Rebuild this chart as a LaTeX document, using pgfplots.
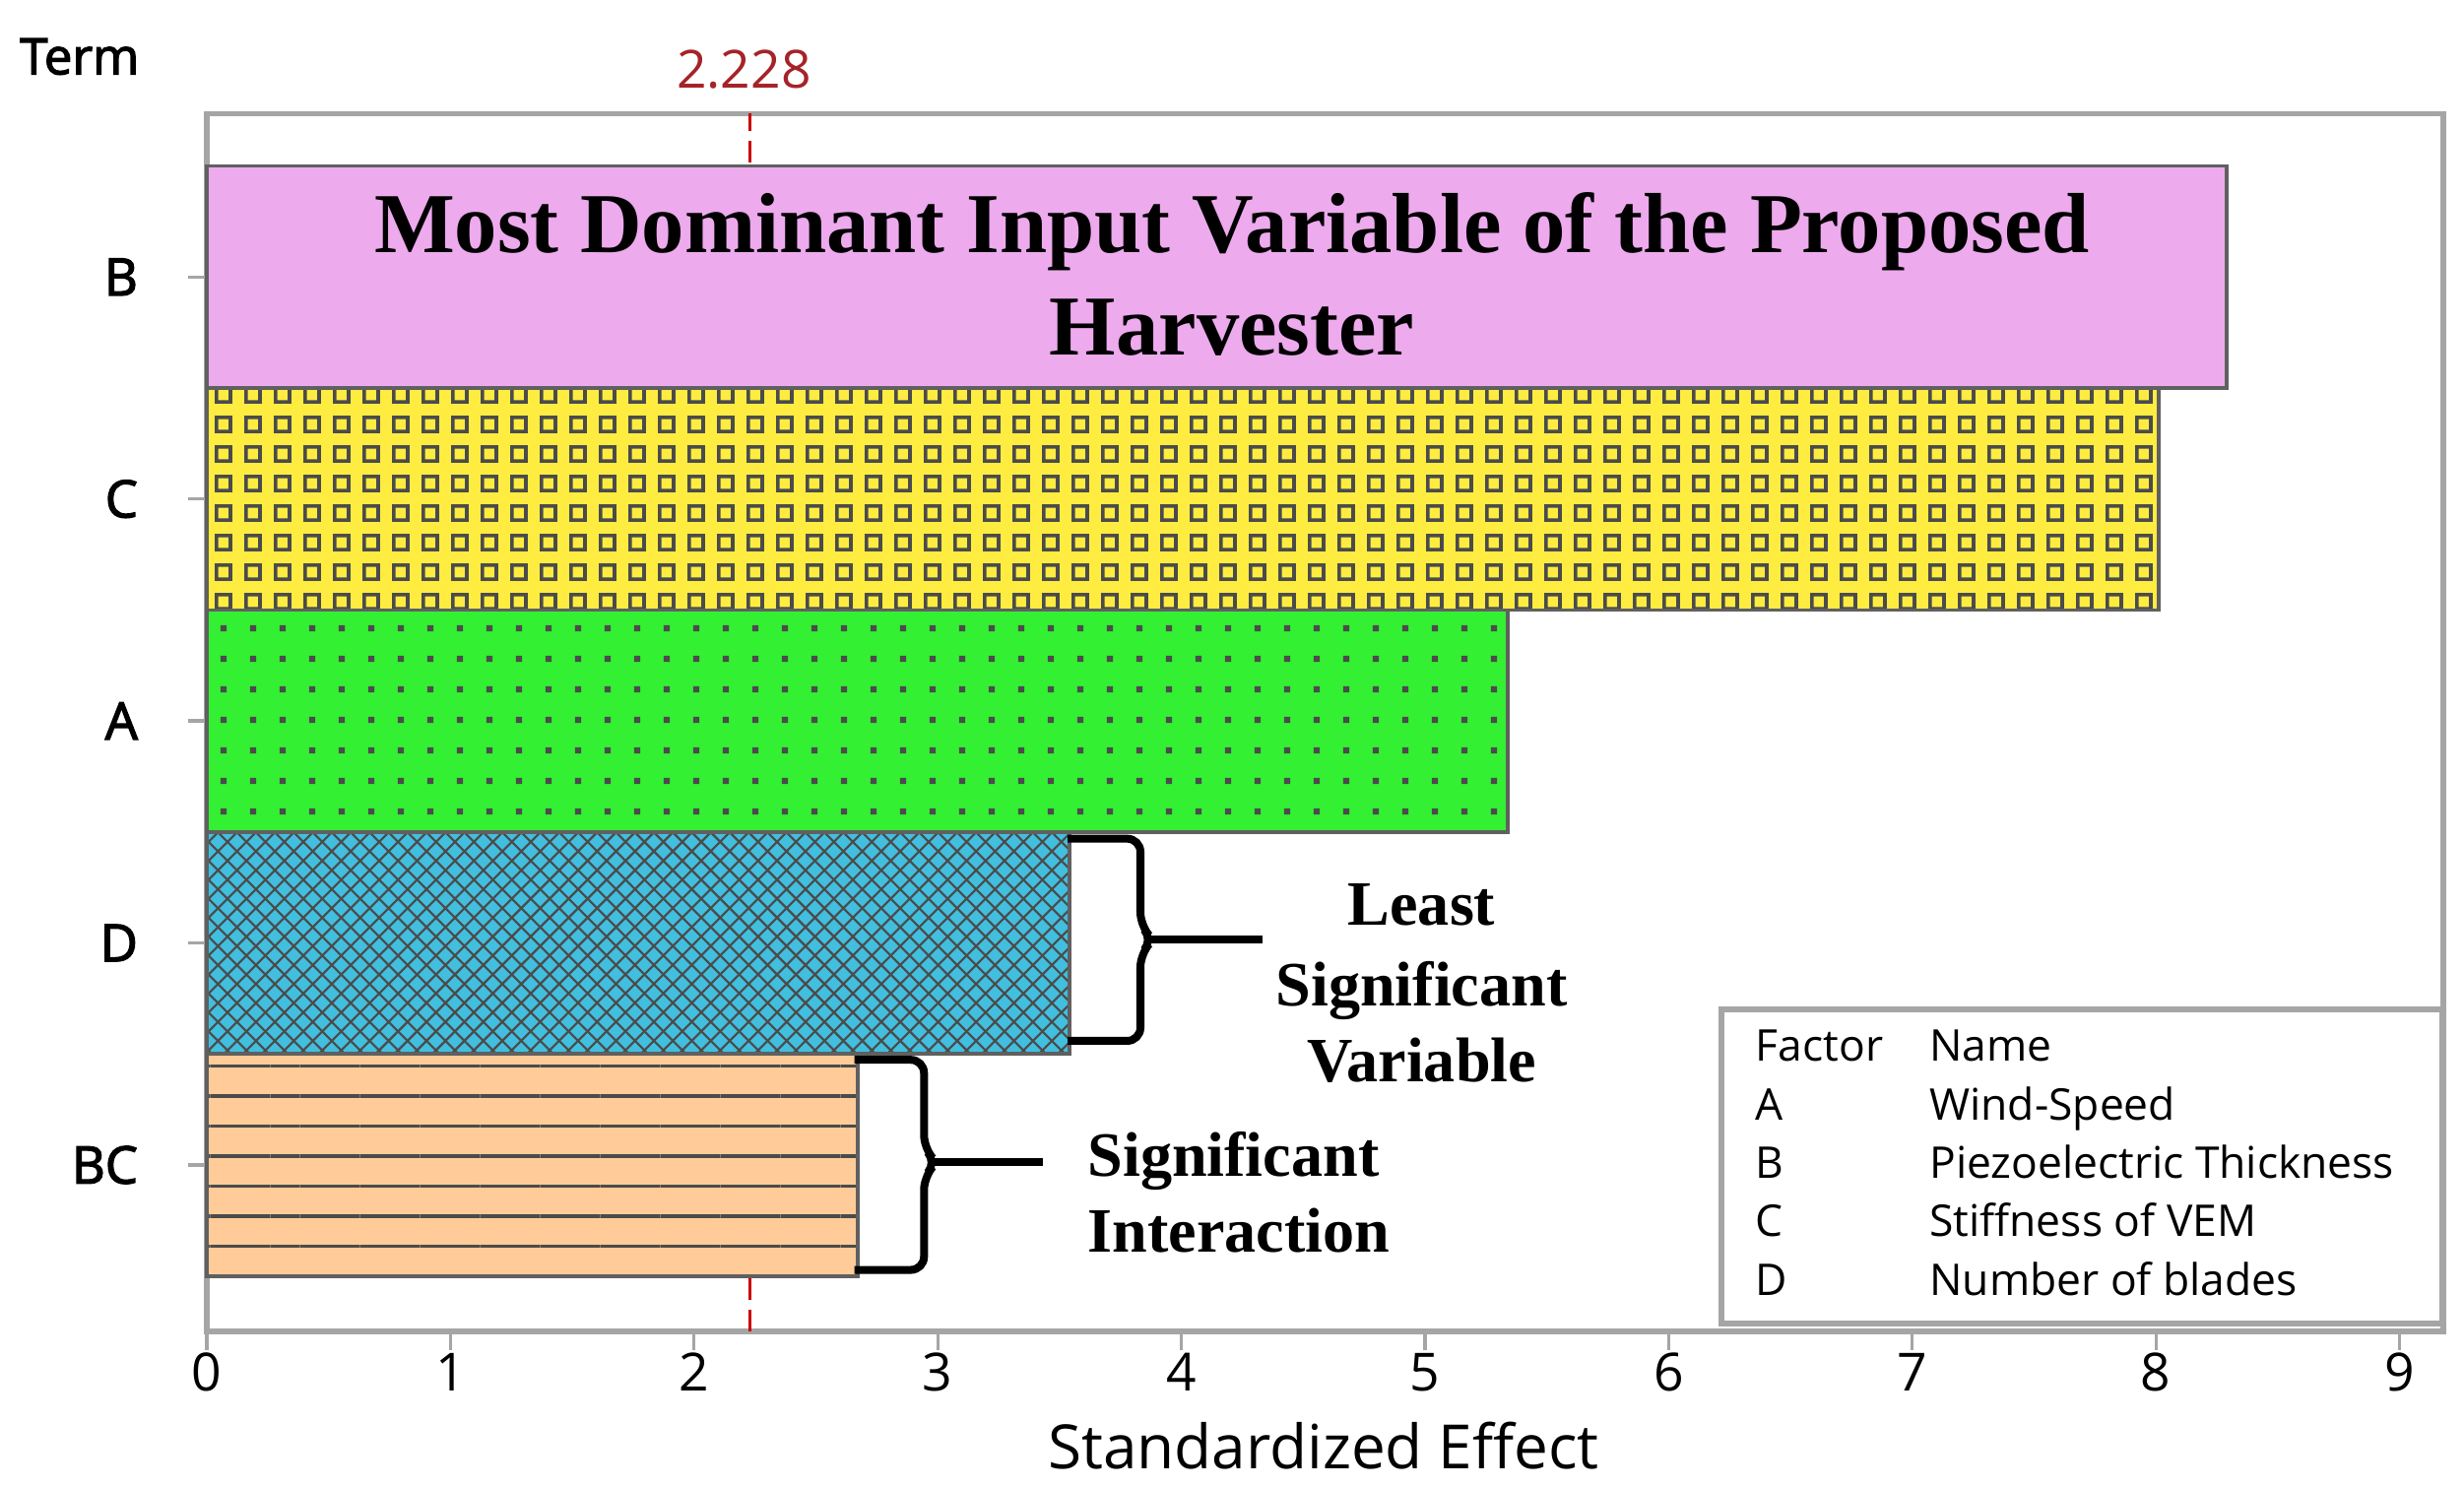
\documentclass[border=0pt]{standalone}
\usepackage{fontspec}
\setmainfont{Open Sans}
\newfontfamily\ossb[FakeBold=2.5]{Open Sans}
\newfontfamily\tnr{Liberation Serif}
\usepackage{pgfplots}
\pgfplotsset{compat=1.18}
\usetikzlibrary{patterns.meta}

\definecolor{cpink}{RGB}{237,170,237}
\definecolor{cyellow}{RGB}{255,236,64}
\definecolor{cgreen}{RGB}{51,240,51}
\definecolor{ccyan}{RGB}{66,190,222}
\definecolor{cpeach}{RGB}{255,204,153}
\definecolor{patc}{RGB}{75,75,75}
\definecolor{barline}{RGB}{96,96,96}
\definecolor{framec}{RGB}{165,165,165}
\definecolor{reflc}{RGB}{204,0,0}
\definecolor{reflt}{RGB}{165,35,40}

\tikzdeclarepattern{name=msquares, type=uncolored,
  bounding box={(0pt,0pt) and (5.7pt,5.7pt)}, tile size={(5.7pt,5.7pt)},
  code={\draw[line width=0.7pt] (1.5pt,1.5pt) rectangle (4.2pt,4.2pt);}}
\tikzdeclarepattern{name=mdots, type=uncolored,
  bounding box={(0pt,0pt) and (5.7pt,5.7pt)}, tile size={(5.7pt,5.7pt)},
  code={\fill (2.25pt,2.25pt) rectangle (3.45pt,3.45pt);}}
\tikzdeclarepattern{name=mxhatch, type=uncolored,
  bounding box={(-0.3pt,-0.3pt) and (3.9pt,3.9pt)}, tile size={(3.6pt,3.6pt)},
  code={\draw[line width=0.4pt] (0pt,0pt) -- (3.6pt,3.6pt) (0pt,3.6pt) -- (3.6pt,0pt);}}
\tikzdeclarepattern{name=mhlines, type=uncolored,
  bounding box={(0pt,-0.4pt) and (5.7pt,0.4pt)}, tile size={(5.7pt,5.7pt)},
  code={\draw[line width=0.6pt] (0pt,0pt) -- (5.7pt,0pt);}}

\begin{document}
\begin{tikzpicture}
\useasboundingbox (0,0) rectangle (468pt,282.3pt);
\begin{axis}[
  at={(39.3pt,29.4pt)}, anchor=south west,
  scale only axis, width=424.8pt, height=231.3pt,
  xmin=0, xmax=9.18, ymin=-0.75, ymax=4.735,
  xtick={0,1,...,9}, ytick={0,1,2,3,4}, yticklabels={BC,D,A,C,B},
  axis line style={draw=framec, line width=1.1pt},
  tick align=outside, xtick pos=bottom, ytick pos=left,
  major tick length=3.6pt,
  tick style={draw=framec, line width=0.6pt},
  /pgf/number format/assume math mode=true,
  xticklabel style={font=\fontsize{10}{12}\selectfont, yshift=3pt},
  yticklabel style={font=\ossb\fontsize{9.8}{12}\selectfont, xshift=-6pt},
  clip=false,
]
\draw[reflc, line width=0.5pt, dash pattern=on 4.2pt off 1.8pt] (axis cs:2.228,-0.75) -- (axis cs:2.228,4.735);
\addplot[xbar, bar width=1, bar shift=0pt, draw=barline, line width=0.7pt, fill=cpink] coordinates {(8.29,4)};
\addplot[xbar, bar width=1, bar shift=0pt, draw=barline, line width=0.7pt, preaction={fill=cyellow}, pattern=msquares, pattern color=patc] coordinates {(8.01,3)};
\addplot[xbar, bar width=1, bar shift=0pt, draw=barline, line width=0.7pt, preaction={fill=cgreen}, pattern=mdots, pattern color=patc] coordinates {(5.34,2)};
\addplot[xbar, bar width=1, bar shift=0pt, draw=barline, line width=0.7pt, preaction={fill=ccyan}, pattern=mxhatch, pattern color=patc] coordinates {(3.54,1)};
\addplot[xbar, bar width=1, bar shift=0pt, draw=barline, line width=0.7pt, preaction={fill=cpeach}, pattern=mhlines, pattern color=patc] coordinates {(2.67,0)};
\end{axis}
\begin{scope}[x=0.3pt, y=-0.3pt, shift={(0pt,282.3pt)}]
  \node[font=\ossb\fontsize{9.5}{11}\selectfont, anchor=base west, inner sep=0] at (12,47) {Term};
  \node[font=\fontsize{10}{12}\selectfont, text=reflt, anchor=base, inner sep=0] at (471,56) {2.228};
  \node[font=\fontsize{11.6}{14}\selectfont, anchor=base, inner sep=0] at (838,930) {Standardized Effect};
  % annotations
  \node[font=\tnr\bfseries\fontsize{16.2}{19.5}\selectfont, anchor=base, inner sep=0] at (780,160) {Most Dominant Input Variable of the Proposed};
  \node[font=\tnr\bfseries\fontsize{16.2}{19.5}\selectfont, anchor=base, inner sep=0] at (780,225) {Harvester};
  \node[font=\tnr\bfseries\fontsize{12}{14}\selectfont, anchor=base, inner sep=0] at (900,586) {Least};
  \node[font=\tnr\bfseries\fontsize{12}{14}\selectfont, anchor=base, inner sep=0] at (900,637) {Significant};
  \node[font=\tnr\bfseries\fontsize{12}{14}\selectfont, anchor=base, inner sep=0] at (900,685) {Variable};
  \node[font=\tnr\bfseries\fontsize{12}{14}\selectfont, anchor=base west, inner sep=0] at (688,745) {Significant};
  \node[font=\tnr\bfseries\fontsize{12}{14}\selectfont, anchor=base west, inner sep=0] at (688,793) {Interaction};
  % braces
  \draw[line width=1.5pt, rounded corners=2.5pt] (676,531) -- (722,531) -- (722,586) -- (730,595) -- (722,604) -- (722,659) -- (676,659);
  \draw[line width=1.5pt] (728,595) -- (799,595);
  \draw[line width=1.5pt, rounded corners=2.5pt] (541,671) -- (585,671) -- (585,727) -- (593,736) -- (585,745) -- (585,804) -- (541,804);
  \draw[line width=1.5pt] (591,736) -- (660,736);
  % legend box
  \draw[draw=framec, line width=1.1pt, fill=white] (1090,639) rectangle (1546,838);
  \begin{scope}[every node/.style={font=\fontsize{8.3}{10}\selectfont, anchor=base west, inner sep=0}]
    \node at (1111,672) {Factor}; \node at (1221,672) {Name};
    \node at (1111,709) {A}; \node at (1221,709) {Wind-Speed};
    \node at (1111,746) {B}; \node at (1221,746) {Piezoelectric Thickness};
    \node at (1111,783) {C}; \node at (1221,783) {Stiffness of VEM};
    \node at (1111,820) {D}; \node at (1221,820) {Number of blades};
  \end{scope}
\end{scope}
\end{tikzpicture}
\end{document}
